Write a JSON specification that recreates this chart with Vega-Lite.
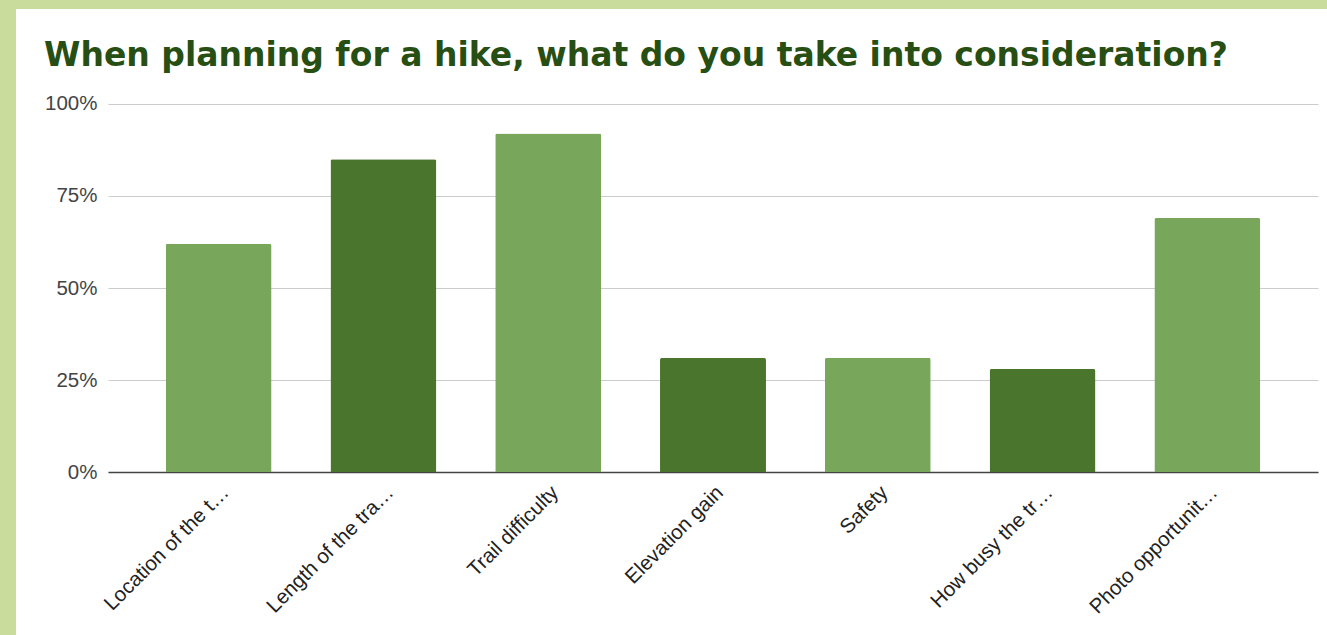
{
  "$schema": "https://vega.github.io/schema/vega-lite/v6.json",
  "width": 1210,
  "height": 442,
  "autosize": {"type": "none"},
  "padding": {"left": 108, "top": 101, "right": 9, "bottom": 92},
  "background": "#c9dc9c",
  "config": {
    "view": {"fill": "white", "stroke": "white", "strokeWidth": 184},
    "font": "Liberation Sans"
  },
  "title": {
    "text": "When planning for a hike, what do you take into consideration?",
    "anchor": "start",
    "frame": "group",
    "dx": -64,
    "offset": 21,
    "fontSize": 33,
    "fontWeight": "bold",
    "font": "DejaVu Sans",
    "color": "#274e13"
  },
  "data": {
    "values": [
      {"option": "Location of the t…", "share": 0.62},
      {"option": "Length of the tra…", "share": 0.85},
      {"option": "Trail difficulty", "share": 0.92},
      {"option": "Elevation gain", "share": 0.31},
      {"option": "Safety", "share": 0.31},
      {"option": "How busy the tr…", "share": 0.28},
      {"option": "Photo opportunit…", "share": 0.69}
    ]
  },
  "mark": {"type": "bar", "cornerRadiusTopLeft": 2, "cornerRadiusTopRight": 2},
  "encoding": {
    "x": {
      "field": "option",
      "type": "nominal",
      "sort": null,
      "scale": {"paddingInner": 0.357, "paddingOuter": 0.35},
      "axis": {
        "title": null,
        "offset": -71,
        "labelAngle": -45,
        "labelFontSize": 20.5,
        "labelColor": "#222222",
        "labelPadding": 10,
        "ticks": false,
        "domainColor": "#444444",
        "domainWidth": 1.5,
        "labelLimit": 400
      }
    },
    "y": {
      "field": "share",
      "type": "quantitative",
      "scale": {"domain": [-0.19293, 1.00815], "nice": false, "zero": false},
      "axis": {
        "title": null,
        "values": [0, 0.25, 0.5, 0.75, 1],
        "format": ".0%",
        "domain": false,
        "ticks": false,
        "labelPadding": 11,
        "labelFontSize": 20.5,
        "labelColor": "#444444",
        "gridColor": "#cccccc",
        "gridWidth": 1
      }
    },
    "color": {
      "field": "option",
      "type": "nominal",
      "sort": null,
      "legend": null,
      "scale": {"range": ["#78a65a", "#4a752c", "#78a65a", "#4a752c", "#78a65a", "#4a752c", "#78a65a"]}
    }
  }
}
